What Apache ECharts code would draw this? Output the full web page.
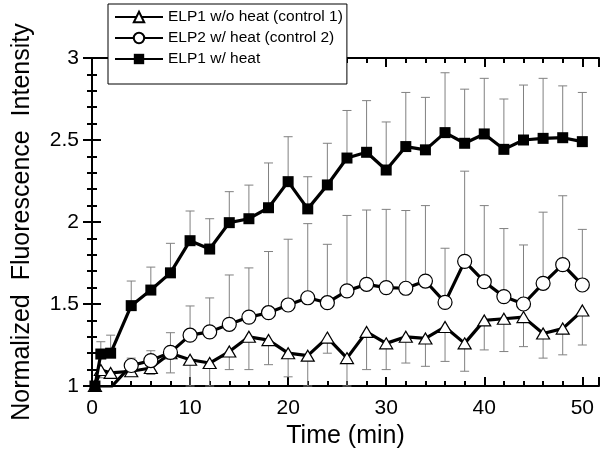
<!DOCTYPE html>
<html><head><meta charset="utf-8">
<script src="https://cdn.jsdelivr.net/npm/echarts@6/dist/echarts.min.js"></script>
<style>html,body{margin:0;padding:0;background:#fff}#c{width:601px;height:449px}</style>
</head><body><div id="c"></div>
<script>
const times = [0.3, 0.9, 1.9, 4, 6, 8, 10, 12, 14, 16, 18, 20, 22, 24, 26, 28, 30, 32, 34, 36, 38, 40, 42, 44, 46, 48, 50];
const ctrl1 = [1.0, 1.098, 1.08, 1.09, 1.11, 1.20, 1.16, 1.14, 1.21, 1.30, 1.28, 1.20, 1.185, 1.295, 1.17, 1.33, 1.26, 1.30, 1.29, 1.36, 1.26, 1.40, 1.41, 1.42, 1.32, 1.35, 1.46];
const ctrl1Low = [null, 1.05, 1.05, 1.06, 1.07, 1.08, 1.0, 1.0, 1.10, 1.10, 1.13, 1.056, 1.0, 1.20, 1.0, 1.10, 1.10, 1.14, 1.12, 1.15, 1.09, 1.22, 1.21, 1.24, 1.17, 1.19, 1.25];
const ctrl2 = [0.99, 0.99, 0.99, 1.125, 1.155, 1.205, 1.31, 1.33, 1.376, 1.42, 1.447, 1.494, 1.538, 1.508, 1.58, 1.62, 1.60, 1.596, 1.64, 1.51, 1.76, 1.636, 1.545, 1.50, 1.626, 1.74, 1.616];
const ctrl2High = [null, null, null, 1.17, 1.215, 1.325, 1.488, 1.537, 1.677, 1.72, 1.82, 1.895, 1.99, 1.864, 2.04, 2.073, 2.077, 2.07, 2.10, 1.84, 2.31, 2.10, 1.96, 1.86, 2.06, 2.16, 1.955];
const heat = [1.0, 1.195, 1.20, 1.49, 1.585, 1.69, 1.886, 1.835, 1.996, 2.02, 2.087, 2.246, 2.08, 2.226, 2.39, 2.425, 2.317, 2.46, 2.44, 2.545, 2.48, 2.537, 2.443, 2.50, 2.51, 2.514, 2.49];
const heatHigh = [null, 1.27, 1.31, 1.64, 1.725, 1.87, 2.067, 2.02, 2.185, 2.225, 2.36, 2.52, 2.276, 2.48, 2.68, 2.74, 2.61, 2.79, 2.76, 2.91, 2.81, 2.876, 2.75, 2.835, 2.876, 2.83, 2.79];
const names = ['ELP1 w/o heat (control 1)', 'ELP2 w/ heat (control 2)', 'ELP1 w/ heat'];
const xTickLabels = [0, 10, 20, 30, 40, 50];
const yTickLabels = [1, 1.5, 2, 2.5, 3];

const FONT = 'Liberation Sans, Arial, Helvetica, sans-serif';
const pts = (ys) => times.map((t, i) => [t, ys[i]]);
const errPts = (ys, es) => times.map((t, i) => [t, ys[i], es[i]]).filter(d => d[2] !== null && d[2] !== undefined);

function errRender(params, api) {
  const x = api.value(0), y = api.value(1), e = api.value(2);
  const p0 = api.coord([x, y]);
  const p1 = api.coord([x, e]);
  const style = { stroke: '#808080', lineWidth: 1 };
  return {
    type: 'group',
    children: [
      { type: 'line', shape: { x1: p0[0], y1: p0[1], x2: p1[0], y2: p1[1] }, style },
      { type: 'line', shape: { x1: p1[0] - 4.5, y1: p1[1], x2: p1[0] + 4.5, y2: p1[1] }, style }
    ]
  };
}

const axisLineStyle = { color: '#000', width: 2 };
const xMin = 0, xMax = 51.7, yMin = 1, yMax = 3;
const tickMajor = { inside: true, length: 9, lineStyle: { color: '#000', width: 2 } };
const tickMinor = { show: true, splitNumber: 5, length: 5, lineStyle: { color: '#000', width: 2 } };

const option = {
  animation: false,
  backgroundColor: '#fff',
  textStyle: { fontFamily: FONT },
  grid: { left: 92, right: 2, top: 58, bottom: 63, containLabel: false, outerBoundsMode: 'none' },
  legend: {
    data: names,
    orient: 'vertical',
    left: 108, top: 4,
    backgroundColor: '#fff',
    borderColor: '#000', borderWidth: 1,
    padding: [5, 4, 17, 6],
    itemWidth: 48, itemHeight: 13, itemGap: 5,
    textStyle: { fontSize: 15.5, color: '#000', fontFamily: FONT },
    z: 20
  },
  xAxis: [{
    type: 'value', min: xMin, max: xMax, interval: 10,
    name: 'Time (min)', nameLocation: 'middle', nameGap: 38,
    nameTextStyle: { fontSize: 25, color: '#000', fontFamily: FONT },
    axisLine: { lineStyle: axisLineStyle },
    axisTick: tickMajor, minorTick: tickMinor,
    axisLabel: { fontSize: 21, color: '#000', margin: 12, fontFamily: FONT,
      formatter: v => (xTickLabels.indexOf(v) >= 0 ? String(v) : '') },
    splitLine: { show: false }
  }, {
    type: 'value', position: 'top', min: xMin, max: xMax, interval: 10,
    axisLine: { lineStyle: axisLineStyle },
    axisTick: tickMajor, minorTick: tickMinor,
    axisLabel: { show: false }, splitLine: { show: false }
  }],
  yAxis: [{
    type: 'value', min: yMin, max: yMax, interval: 0.5,
    name: 'Normalized  Fluorescence  Intensity', nameLocation: 'middle', nameGap: 57,
    nameTextStyle: { fontSize: 25, color: '#000', fontFamily: FONT },
    axisLine: { lineStyle: axisLineStyle },
    axisTick: tickMajor, minorTick: tickMinor,
    axisLabel: { fontSize: 21, color: '#000', margin: 13, fontFamily: FONT,
      formatter: v => (yTickLabels.indexOf(v) >= 0 ? String(v) : '') },
    splitLine: { show: false }
  }, {
    type: 'value', position: 'right', min: yMin, max: yMax, interval: 0.5,
    axisLine: { lineStyle: axisLineStyle },
    axisTick: tickMajor, minorTick: tickMinor,
    axisLabel: { show: false }, splitLine: { show: false }
  }],
  series: [
    { type: 'custom', renderItem: errRender, data: errPts(ctrl1, ctrl1Low), z: 1, silent: true, encode: { x: 0, y: [1, 2] } },
    { type: 'custom', renderItem: errRender, data: errPts(ctrl2, ctrl2High), z: 1, silent: true, encode: { x: 0, y: [1, 2] } },
    { type: 'custom', renderItem: errRender, data: errPts(heat, heatHigh), z: 1, silent: true, encode: { x: 0, y: [1, 2] } },
    { name: names[0], type: 'line', data: pts(ctrl1), clip: false, z: 3,
      symbol: 'triangle', symbolSize: [13, 11], showAllSymbol: true,
      lineStyle: { color: '#000', width: 3.2 },
      itemStyle: { color: '#fff', borderColor: '#000', borderWidth: 1.2 } },
    { name: names[1], type: 'line', data: pts(ctrl2), clip: true, z: 4,
      symbol: 'circle', symbolSize: 14, showAllSymbol: true,
      lineStyle: { color: '#000', width: 3.2 },
      itemStyle: { color: '#fff', borderColor: '#000', borderWidth: 1.2 } },
    { name: names[2], type: 'line', data: pts(heat), clip: false, z: 5,
      symbol: 'rect', symbolSize: 11, showAllSymbol: true,
      lineStyle: { color: '#000', width: 3.2 },
      itemStyle: { color: '#000', borderColor: '#000', borderWidth: 0 } }
  ]
};
const chart = echarts.init(document.getElementById('c'), null, { renderer: 'canvas' });
chart.setOption(option);
</script>
</body></html>
